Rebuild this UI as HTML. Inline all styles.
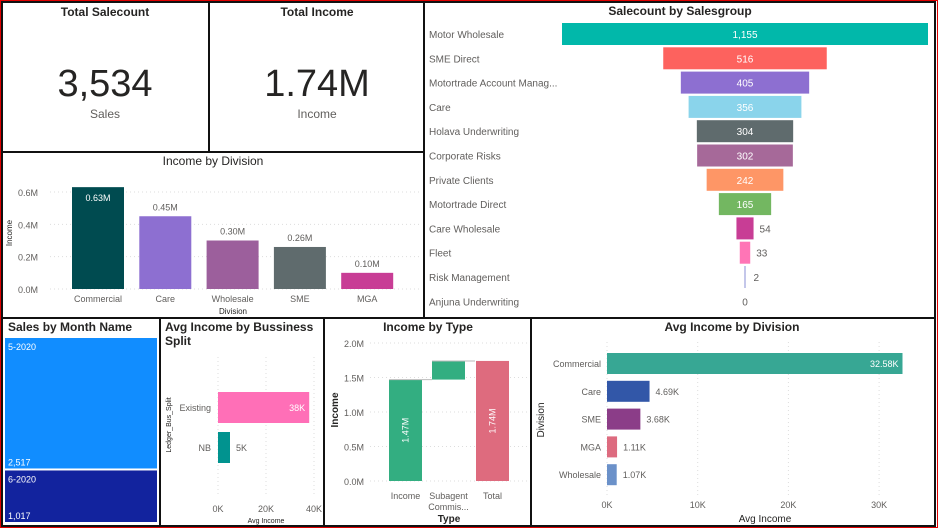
<!DOCTYPE html>
<html><head><meta charset="utf-8"><style>
body{margin:0;background:#fff;font-family:"Liberation Sans",sans-serif;}
svg{display:block}
text{font-family:"Liberation Sans",sans-serif;}
</style></head><body>
<svg id="s" width="938" height="528" viewBox="0 0 938 528">
<rect x="0.5" y="0.5" width="937" height="527" fill="#fff" stroke="#e00000" stroke-width="1"/>
<g fill="none" stroke="#111" stroke-width="2">
<rect x="2" y="2" width="207" height="150"/>
<rect x="209" y="2" width="215" height="150"/>
<rect x="424" y="2" width="511" height="316"/>
<rect x="2" y="152" width="422" height="166"/>
<rect x="2" y="318" width="158" height="208"/>
<rect x="160" y="318" width="164" height="208"/>
<rect x="324" y="318" width="207" height="208"/>
<rect x="531" y="318" width="404" height="208"/>
</g>
<g>
<text x="105" y="16" text-anchor="middle" font-size="12" font-weight="bold" fill="#252423">Total Salecount</text>
<text x="105" y="96" text-anchor="middle" font-size="38" fill="#252423">3,534</text>
<text x="105" y="118" text-anchor="middle" font-size="12" fill="#605e5c">Sales</text>
</g>
<g>
<text x="317" y="16" text-anchor="middle" font-size="12" font-weight="bold" fill="#252423">Total Income</text>
<text x="317" y="96" text-anchor="middle" font-size="38" fill="#252423">1.74M</text>
<text x="317" y="118" text-anchor="middle" font-size="12" fill="#605e5c">Income</text>
</g>
<text x="680" y="15" text-anchor="middle" font-size="12" font-weight="bold" fill="#252423">Salecount by Salesgroup</text>
<g id="funnel"></g>
<text x="213" y="165" text-anchor="middle" font-size="12" fill="#252423">Income by Division</text>
<g id="colchart"></g>
<text x="8" y="331" font-size="12" font-weight="bold" fill="#252423">Sales by Month Name</text>
<g id="treemap"></g>
<text x="165" y="331" font-size="12" font-weight="bold" fill="#252423">Avg Income by Bussiness</text>
<text x="165" y="345" font-size="12" font-weight="bold" fill="#252423">Split</text>
<g id="split"></g>
<text x="428" y="331" text-anchor="middle" font-size="12" font-weight="bold" fill="#252423">Income by Type</text>
<g id="wf"></g>
<text x="732" y="331" text-anchor="middle" font-size="12" font-weight="bold" fill="#252423">Avg Income by Division</text>
<g id="avgdiv"></g>
</svg>
<script>
// Funnel data
const funnelCats=["Motor Wholesale","SME Direct","Motortrade Account Manag...","Care","Holava Underwriting","Corporate Risks","Private Clients","Motortrade Direct","Care Wholesale","Fleet","Risk Management","Anjuna Underwriting"];
const funnelVals=[1155,516,405,356,304,302,242,165,54,33,2,0];
const funnelLabels=["1,155","516","405","356","304","302","242","165","54","33","2","0"];
const funnelColors=["#01B8AA","#FD625E","#8D6FD1","#8AD4EB","#5F6B6D","#A66999","#FE9666","#73B761","#C83D95","#FF75B6","#8a8fd6","#999"];
// Income by division
const divCats=["Commercial","Care","Wholesale","SME","MGA"];
const divVals=[0.63,0.45,0.30,0.26,0.10];
const divLabels=["0.63M","0.45M","0.30M","0.26M","0.10M"];
const divColors=["#004B50","#8D6FD1","#9C5F9C","#5F6B6D","#C83D95"];
const divTicks=[0,0.2,0.4,0.6];
// Treemap
const monthCats=["5-2020","6-2020"];
const monthVals=[2517,1017];
// Bus split
const splitCats=["Existing","NB"];
const splitVals=[38,5];
const splitTicks=[0,20,40];
// Waterfall
const wfCats=["Income","Subagent Commis..."];
const wfVals=[1.47,0.27];
const wfTotal=1.74;
const wfTicks=[0,0.5,1.0,1.5,2.0];
// Avg income by division
const avgCats=["Commercial","Care","SME","MGA","Wholesale"];
const avgVals=[32.58,4.69,3.68,1.11,1.07];
const avgLabels=["32.58K","4.69K","3.68K","1.11K","1.07K"];
const avgColors=["#37A794","#3257A8","#8B3D88","#DD6B7F","#6B91C9"];
const avgTicks=[0,10,20,30];

const NS="http://www.w3.org/2000/svg";
function mk(parent,tag,attrs,txt){const e=document.createElementNS(NS,tag);for(const k in attrs)e.setAttribute(k,attrs[k]);if(txt!==undefined)e.textContent=txt;parent.appendChild(e);return e;}

// Funnel
(function(){const g=document.getElementById('funnel');const cx=745,maxW=366,y0=23,pitch=24.3,h=22;
const fx=v=>v/1155*maxW;
funnelCats.forEach((c,i)=>{const y=y0+i*pitch;
 const t=mk(g,'text',{x:429,y:y+15,'font-size':10,fill:'#605e5c'},c);
 
 
 const w=Math.max(fx(funnelVals[i]),funnelVals[i]>0?1:0);
 if(w>0){const r=mk(g,'rect',{x:cx-w/2,y:y,width:w,height:h,fill:funnelColors[i]});
 
 }
 const inside=w>30;
 const lt=mk(g,'text',{x:inside?cx:cx+w/2+6+(w<3?2:0),y:y+15,'font-size':10,fill:inside?'#fff':'#605e5c','text-anchor':inside?'middle':'start'},funnelLabels[i]);
 if(w===0){lt.setAttribute('x',cx);lt.setAttribute('text-anchor','middle');}
 
 
});})();

// Income by division
(function(){const g=document.getElementById('colchart');const y0=289,left=50,right=420;
const fy=v=>y0-v/0.6*97;
divTicks.forEach(t=>{mk(g,'line',{x1:left,x2:right,y1:fy(t),y2:fy(t),stroke:'#ddd','stroke-dasharray':'1,3'});
 const tt=mk(g,'text',{x:38,y:fy(t)+4,'font-size':9,fill:'#605e5c','text-anchor':'end'},t.toFixed(1)+'M');
 
 });
const yt=mk(g,'text',{x:0,y:0,'font-size':8,fill:'#252423','text-anchor':'middle',transform:'translate(12,233) rotate(-90)'},'Income');


const xt=mk(g,'text',{x:233,y:314,'font-size':8,fill:'#252423','text-anchor':'middle'},'Division');


divCats.forEach((c,i)=>{const x=72+i*67.3,w=52;const y=fy(divVals[i]);
 const r=mk(g,'rect',{x:x,y:y,width:w,height:y0-y,fill:divColors[i]});
 
 
 const inside=i===0;
 const l=mk(g,'text',{x:x+w/2,y:inside?y+14:y-6,'font-size':9,fill:inside?'#fff':'#605e5c','text-anchor':'middle'},divLabels[i]);
 
 
 const cl=mk(g,'text',{x:x+w/2,y:302,'font-size':9,fill:'#605e5c','text-anchor':'middle'},c);
 
 
});})();

// Treemap
(function(){const g=document.getElementById('treemap');const top=338,bot=524,H=bot-top;const tot=monthVals.reduce((a,b)=>a+b,0);const cols=['#118DFF','#12239E'];let y=top;
monthCats.forEach((c,i)=>{const h=monthVals[i]/tot*H;
 const r=mk(g,'rect',{x:5,y:y,width:152,height:h-2,fill:cols[i]});
 
 
 const l=mk(g,'text',{x:8,y:y+12,'font-size':9,fill:'#fff'},c);
 
 
 const v=mk(g,'text',{x:8,y:y+h-5,'font-size':9,fill:'#fff'},monthVals[i].toLocaleString('en-US'));
 
 
 y+=h;});})();

// Bus split
(function(){const g=document.getElementById('split');const x0=218,fx=v=>x0+v*2.4;
splitTicks.forEach(t=>{mk(g,'line',{x1:fx(t),x2:fx(t),y1:357,y2:494,stroke:'#ddd','stroke-dasharray':'1,3'});
 const tt=mk(g,'text',{x:fx(t),y:512,'font-size':9,fill:'#605e5c','text-anchor':'middle'},t+'K');
 
 });
const xa=mk(g,'text',{x:266,y:523,'font-size':7,fill:'#252423','text-anchor':'middle'},'Avg Income');


const ya=mk(g,'text',{x:0,y:0,'font-size':7,fill:'#252423','text-anchor':'middle',transform:'translate(171,425) rotate(-90)'},'Ledger_Bus_Split');


const cols=['#FF6FB7','#01938F'];
splitCats.forEach((c,i)=>{const y=392+i*40,h=31;
 const r=mk(g,'rect',{x:x0,y:y,width:fx(splitVals[i])-x0,height:h,fill:cols[i]});
 
 
 const cl=mk(g,'text',{x:211,y:y+19,'font-size':9,fill:'#605e5c','text-anchor':'end'},c);
 
 
 const inside=i===0;
 const vl=mk(g,'text',{x:inside?fx(splitVals[i])-4:fx(splitVals[i])+6,y:y+19,'font-size':9,fill:inside?'#fff':'#605e5c','text-anchor':inside?'end':'start'},splitVals[i]+'K');
 
 
});})();

// Waterfall
(function(){const g=document.getElementById('wf');const y0=481,fy=v=>y0-v/0.5*34.5;
wfTicks.forEach(t=>{mk(g,'line',{x1:370,x2:528,y1:fy(t),y2:fy(t),stroke:'#ddd','stroke-dasharray':'1,3'});
 const tt=mk(g,'text',{x:364,y:fy(t)+4,'font-size':9,fill:'#605e5c','text-anchor':'end'},t.toFixed(1)+'M');
 
 });
const ya=mk(g,'text',{x:0,y:0,'font-size':10,'font-weight':'bold',fill:'#252423','text-anchor':'middle',transform:'translate(338,410) rotate(-90)'},'Income');


const xa=mk(g,'text',{x:449,y:522,'font-size':10,'font-weight':'bold',fill:'#252423','text-anchor':'middle'},'Type');


let cum=0;const xs=[389,432];
wfCats.forEach((c,i)=>{const a=cum,b=cum+wfVals[i];cum=b;
 const r=mk(g,'rect',{x:xs[i],y:fy(b),width:33,height:fy(a)-fy(b),fill:'#33AE81'});
 
 
 mk(g,'line',{x1:xs[i],x2:xs[i]+43,y1:fy(b),y2:fy(b),stroke:'#bbb'});
});
const tr=mk(g,'rect',{x:476,y:fy(wfTotal),width:33,height:y0-fy(wfTotal),fill:'#DE6B7E'});


[[405.5,wfVals[0]],[492.5,wfTotal]].forEach(([x,v])=>{const cy=(fy(v)+y0)/2;
 const l=mk(g,'text',{x:0,y:0,'font-size':9,fill:'#fff','text-anchor':'middle',transform:`translate(${x+3},${cy}) rotate(-90)`},v.toFixed(2)+'M');
 
 });
const xl=[['Income',405.5,499],['Subagent',448.5,499],['Commis...',448.5,510],['Total',492.5,499]];
xl.forEach(([t,x,y])=>{const e=mk(g,'text',{x:x,y:y,'font-size':9,fill:'#605e5c','text-anchor':'middle'},t);
 
 });
})();

// Avg income by division
(function(){const g=document.getElementById('avgdiv');const x0=607,fx=v=>x0+v*9.07;
avgTicks.forEach(t=>{mk(g,'line',{x1:fx(t),x2:fx(t),y1:342,y2:495,stroke:'#ddd','stroke-dasharray':'1,3'});
 const tt=mk(g,'text',{x:fx(t),y:508,'font-size':9,fill:'#605e5c','text-anchor':'middle'},t+'K');
 
 });
const xa=mk(g,'text',{x:765,y:522,'font-size':10,fill:'#252423','text-anchor':'middle'},'Avg Income');


const ya=mk(g,'text',{x:0,y:0,'font-size':10,fill:'#252423','text-anchor':'middle',transform:'translate(544,420) rotate(-90)'},'Division');


avgCats.forEach((c,i)=>{const y=353+i*27.8,h=21;const x1=fx(avgVals[i]);
 const r=mk(g,'rect',{x:x0,y:y,width:x1-x0,height:h,fill:avgColors[i]});
 
 
 const cl=mk(g,'text',{x:601,y:y+14,'font-size':9,fill:'#605e5c','text-anchor':'end'},c);
 
 
 const inside=i===0;
 const vl=mk(g,'text',{x:inside?x1-4:x1+6,y:y+14,'font-size':9,fill:inside?'#fff':'#605e5c','text-anchor':inside?'end':'start'},avgLabels[i]);
 
 
});})();
</script>
</body></html>
